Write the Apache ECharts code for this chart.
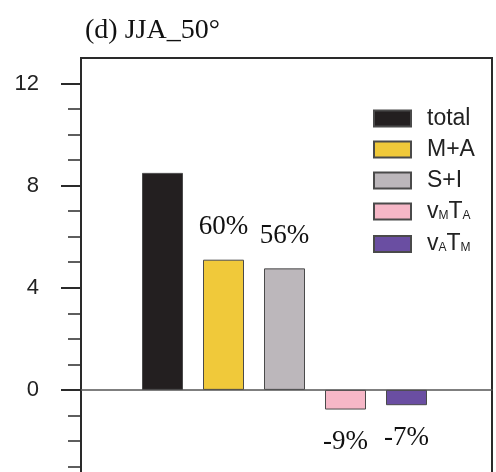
<!DOCTYPE html>
<html>
<head>
<meta charset="utf-8">
<script src="https://cdn.jsdelivr.net/npm/echarts@6/dist/echarts.min.js"></script>
<style>
  html, body { margin: 0; padding: 0; background: #fff; }
  #chart { width: 496px; height: 472px; }
</style>
</head>
<body>
<div id="chart"></div>
<script>
// Heat transport components, JJA at 50°
const categories = ['total', 'M+A', 'S+I', 'vMTA', 'vATM'];
const values = [8.5, 5.1, 4.76, -0.77, -0.6];
const colors = ['#231f20', '#f0c93a', '#bcb7bb', '#f6b7c7', '#6a4ea2'];
const yTickLabels = [-4, 0, 4, 8, 12];
const yMinorTicks = [-3, -2, -1, 1, 2, 3, 5, 6, 7, 9, 10, 11];
const yMin = -4, yMax = 13;

const legendText = {
  'total': '{p|total}',
  'M+A': '{p|M+A}',
  'S+I': '{p|S+I}',
  'vMTA': '{pv|v}{s|M}{v|T}{s|A}',
  'vATM': '{pv|v}{s|A}{v|T}{s|M}'
};

const series = categories.map((name, i) => ({
  name: name,
  type: 'bar',
  xAxisIndex: 1,
  yAxisIndex: 2,
  barWidth: 41,
  barGap: '-100%',
  itemStyle: { color: colors[i], borderColor: '#4a4a4a', borderWidth: 1 },
  label: {
    show: i > 0,
    position: values[i] >= 0 ? 'top' : 'bottom',
    distance: values[i] >= 0 ? 19 : 19,
    fontFamily: 'Liberation Serif',
    fontSize: 27,
    color: '#111',
    formatter: p => Math.round(p.value / values[0] * 100) + '%'
  },
  data: categories.map((c, j) => (j === i ? values[i] : '-'))
}));

const chart = echarts.init(document.getElementById('chart'), null, { renderer: 'canvas' });
chart.setOption({
  animation: false,
  title: {
    text: '(d) JJA_50°',
    left: 80,
    top: 12,
    textStyle: { fontFamily: 'Liberation Serif', fontSize: 28, fontWeight: 'normal', color: '#111' }
  },
  legend: {
    orient: 'vertical',
    left: 368,
    top: 102,
    icon: 'rect',
    itemWidth: 37,
    itemHeight: 16,
    itemGap: 8,
    data: categories,
    formatter: n => legendText[n],
    textStyle: {
      color: '#222',
      rich: {
        p: { fontFamily: 'Liberation Sans', fontSize: 23, lineHeight: 26, padding: [0, 0, 0, 11], color: '#222' },
        pv: { fontFamily: 'Liberation Sans', fontSize: 23, lineHeight: 26, padding: [0, 0, 0, 11], color: '#222' },
        v: { fontFamily: 'Liberation Sans', fontSize: 23, lineHeight: 26, color: '#222' },
        s: { fontFamily: 'Liberation Sans', fontSize: 12, lineHeight: 12, verticalAlign: 'bottom', padding: [0, 0, 3, 0], color: '#222' }
      }
    }
  },
  grid: [
    { left: 81, width: 411, top: 58, height: 434, outerBoundsMode: 'none', containLabel: false,
      show: true, borderColor: '#2a2a2a', borderWidth: 2, backgroundColor: 'transparent' },
    { left: 132, width: 305, top: 58, height: 434, outerBoundsMode: 'none', containLabel: false }
  ],
  xAxis: [
    {
      gridIndex: 0, type: 'value', min: 0, max: 1,
      axisLine: { show: true, onZero: true, lineStyle: { color: '#555', width: 1.5 } },
      axisTick: { show: false }, axisLabel: { show: false }, splitLine: { show: false }
    },
    {
      gridIndex: 1, type: 'category', data: categories,
      axisLine: { show: false }, axisTick: { show: false }, axisLabel: { show: false }, splitLine: { show: false }
    }
  ],
  yAxis: [
    {
      gridIndex: 0, type: 'value', min: yMin, max: yMax,
      axisLine: { show: true, lineStyle: { color: '#2a2a2a', width: 2 } },
      axisTick: { show: true, inside: false, length: 20, customValues: yTickLabels, lineStyle: { color: '#2a2a2a', width: 2 } },
      axisLabel: {
        show: true, margin: 42, customValues: yTickLabels,
        fontFamily: 'Liberation Sans', fontSize: 22, color: '#222'
      },
      splitLine: { show: false }
    },
    {
      gridIndex: 0, type: 'value', min: yMin, max: yMax, position: 'left',
      axisLine: { show: false },
      axisTick: { show: true, inside: false, length: 13, customValues: yMinorTicks, lineStyle: { color: '#2a2a2a', width: 1.5 } },
      axisLabel: { show: false },
      splitLine: { show: false }
    },
    {
      gridIndex: 1, type: 'value', min: yMin, max: yMax,
      axisLine: { show: false }, axisTick: { show: false }, axisLabel: { show: false }, splitLine: { show: false }
    }
  ],
  series: series
});
</script>
</body>
</html>
